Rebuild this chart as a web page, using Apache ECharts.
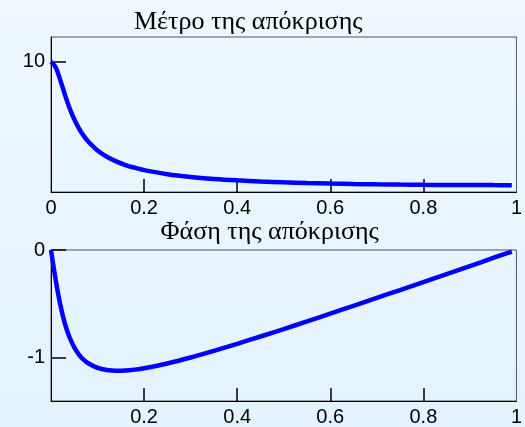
<!DOCTYPE html>
<html>
<head>
<meta charset="utf-8">
<script src="https://cdn.jsdelivr.net/npm/echarts@6/dist/echarts.min.js"></script>
<style>
html,body{margin:0;padding:0;}
#chart{width:525px;height:427px;}
</style>
</head>
<body>
<div id="chart"></div>
<script>
// Normalized frequency (x π rad/sample)
const freq = [0,0.01,0.02,0.03,0.04,0.05,0.06,0.07,0.08,0.10,0.12,0.14,0.16,0.18,0.20,0.25,0.30,0.35,0.40,0.45,0.50,0.55,0.60,0.65,0.70,0.75,0.80,0.85,0.90,0.95,0.99];
// Magnitude of the response (Μέτρο της απόκρισης)
const magnitude = [10,9.58,8.59,7.46,6.43,5.58,4.89,4.33,3.88,3.19,2.71,2.35,2.07,1.86,1.68,1.364,1.153,1.004,0.893,0.809,0.743,0.691,0.650,0.617,0.590,0.570,0.553,0.541,0.533,0.528,0.526];
// Phase of the response (Φάση της απόκρισης), rad
const phase = [0,-0.274,-0.507,-0.684,-0.811,-0.903,-0.969,-1.016,-1.050,-1.093,-1.113,-1.120,-1.118,-1.109,-1.096,-1.052,-0.997,-0.935,-0.870,-0.802,-0.733,-0.662,-0.590,-0.517,-0.444,-0.371,-0.297,-0.223,-0.149,-0.074,-0.015];
// Tick values
const xTicks = [0.2,0.4,0.6,0.8];
const xLabelsTop = [0,0.2,0.4,0.6,0.8,1];
const xLabelsBottom = [0.2,0.4,0.6,0.8,1];
const magTicks = [10];
const phaseTicks = [-1,0];
const titles = ['Μέτρο της απόκρισης','Φάση της απόκρισης'];

const chart = echarts.init(document.getElementById('chart'));
const labelFont = {fontFamily:'Liberation Sans, Arial, sans-serif', fontSize:20, color:'#000'};
function xAxis(gi, labels){
  return {
    type:'value', gridIndex:gi, min:0, max:1,
    axisLine:{show:true, onZero:false, lineStyle:{color:'#000', width:1}},
    axisTick:{show:true, inside:true, length:13, lineStyle:{color:'#000', width:1.5}, customValues:xTicks},
    axisLabel:Object.assign({margin:6, customValues:labels, formatter:v=>String(v)}, labelFont),
    splitLine:{show:false}
  };
}
function yAxis(gi, min, max, ticks){
  return {
    type:'value', gridIndex:gi, min:min, max:max,
    axisLine:{show:true, onZero:false, lineStyle:{color:'#000', width:1}},
    axisTick:{show:true, inside:true, length:15, lineStyle:{color:'#000', width:1.5}, customValues:ticks},
    axisLabel:Object.assign({margin:6, customValues:ticks, formatter:v=>String(v)}, labelFont),
    splitLine:{show:false}
  };
}
const titleFont = '26px "Liberation Serif", "Times New Roman", serif';
const option = {
  animation:false,
  backgroundColor:{type:'linear', x:0, y:0, x2:0, y2:1, colorStops:[{offset:0,color:'#EEF8FE'},{offset:1,color:'#E3F2FC'}]},
  grid:[
    {left:51, top:37, width:467, height:155, show:true, borderColor:'#555', borderWidth:1, backgroundColor:'transparent'},
    {left:51, top:250, width:467, height:155, show:true, borderColor:'#555', borderWidth:1, backgroundColor:'transparent'}
  ],
  xAxis:[xAxis(0, xLabelsTop), xAxis(1, xLabelsBottom)],
  yAxis:[yAxis(0, 0, 11.9, magTicks), yAxis(1, -1.4, 0, phaseTicks)],
  graphic:[
    {type:'text', x:134, y:22.3, style:{text:titles[0], font:titleFont, fill:'#000', textAlign:'left', textVerticalAlign:'middle'}},
    {type:'text', x:160.5, y:232.3, style:{text:titles[1], font:titleFont, fill:'#000', textAlign:'left', textVerticalAlign:'middle'}}
  ],
  series:[
    {type:'line', xAxisIndex:0, yAxisIndex:0, data:freq.map((f,i)=>[f,magnitude[i]]), smooth:0.3, showSymbol:false, lineStyle:{color:'#0000FF', width:4.5}},
    {type:'line', xAxisIndex:1, yAxisIndex:1, data:freq.map((f,i)=>[f,phase[i]]), smooth:0.3, showSymbol:false, lineStyle:{color:'#0000FF', width:4.5}}
  ]
};
chart.setOption(option);
</script>
</body>
</html>
